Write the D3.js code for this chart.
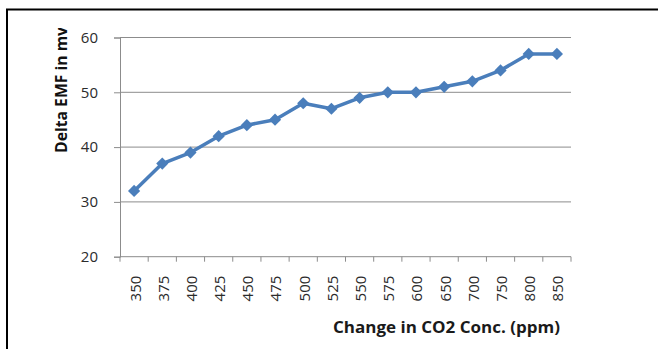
<!DOCTYPE html>
<html>
<head>
<meta charset="utf-8">
<script src="https://cdn.jsdelivr.net/npm/d3@7"></script>
<style>
  html, body { margin: 0; padding: 0; background: #fff; }
  svg { display: block; }
</style>
</head>
<body>
<svg id="chart" width="658" height="349"></svg>
<script>
// CO2 concentration steps (ppm) and measured EMF change (mV)
const categories = ["350","375","400","425","450","475","500","525","550","575","600","650","700","750","800","850"];
const deltaEmf = [32, 37, 39, 42, 44, 45, 48, 47, 49, 50, 50, 51, 52, 54, 57, 57];
const yTicks = [20, 30, 40, 50, 60];

const svg = d3.select("#chart");
const plot = { left: 120, right: 571, top: 37.5, bottom: 256.7 };
const font = "'Open Sans', 'Noto Sans', sans-serif";

// outer frame
svg.append("rect")
  .attr("x", 7).attr("y", 9.5)
  .attr("width", 700).attr("height", 400)
  .attr("fill", "none").attr("stroke", "#000").attr("stroke-width", 2);

const x = d3.scaleBand().domain(categories).range([plot.left, plot.right]).padding(0);
const y = d3.scaleLinear().domain([20, 60]).range([plot.bottom, plot.top]);

// horizontal gridlines
svg.append("g")
  .selectAll("line")
  .data(yTicks.slice(1))
  .join("line")
  .attr("x1", plot.left).attr("x2", plot.right)
  .attr("y1", d => y(d)).attr("y2", d => y(d))
  .attr("stroke", "#8c8c8c").attr("stroke-width", 1);

// y axis
const yAxis = svg.append("g")
  .attr("transform", `translate(${plot.left},0)`)
  .call(d3.axisLeft(y).tickValues(yTicks).tickSize(6).tickPadding(16));
yAxis.select(".domain").attr("stroke", "#8c8c8c");
yAxis.selectAll(".tick line").attr("stroke", "#8c8c8c");
yAxis.selectAll(".tick text")
  .attr("font-family", font).attr("font-size", 15).attr("fill", "#2b2b2b");

// x axis with ticks on category boundaries
const xAxisG = svg.append("g").attr("transform", `translate(0,${plot.bottom})`);
xAxisG.append("line")
  .attr("x1", plot.left).attr("x2", plot.right)
  .attr("y1", 0).attr("y2", 0)
  .attr("stroke", "#8c8c8c");
const boundaries = categories.map(c => x(c)).concat([x(categories[categories.length - 1]) + x.bandwidth()]);
xAxisG.selectAll("line.tk")
  .data(boundaries)
  .join("line").attr("class", "tk")
  .attr("x1", d => d).attr("x2", d => d)
  .attr("y1", 0).attr("y2", 5)
  .attr("stroke", "#8c8c8c");
xAxisG.selectAll("text")
  .data(categories)
  .join("text")
  .attr("transform", d => `translate(${x(d) + x.bandwidth() / 2 + 1},19) rotate(-90)`)
  .attr("text-anchor", "end")
  .attr("dy", "0.36em")
  .attr("font-family", font).attr("font-size", 15).attr("fill", "#2b2b2b")
  .text(d => d);

// data line and diamond markers
const cx = d => x(d) + x.bandwidth() / 2;
const line = d3.line().x((d, i) => cx(categories[i])).y(d => y(d));
svg.append("path")
  .datum(deltaEmf)
  .attr("d", line)
  .attr("fill", "none")
  .attr("stroke", "#4a7ebb").attr("stroke-width", 3.5)
  .attr("stroke-linejoin", "round");
svg.append("g")
  .selectAll("path")
  .data(deltaEmf)
  .join("path")
  .attr("d", d3.symbol().type(d3.symbolDiamond2).size(95))
  .attr("transform", (d, i) => `translate(${cx(categories[i])},${y(d)})`)
  .attr("fill", "#4a7ebb");

// axis titles
svg.append("defs").append("clipPath").attr("id", "yclip")
  .append("rect").attr("x", 0).attr("y", 28).attr("width", 120).attr("height", 300);
svg.append("g")
  .attr("clip-path", "url(#yclip)")
  .append("text")
  .attr("transform", "translate(67,153) rotate(-90)")
  .attr("text-anchor", "start")
  .attr("textLength", 126).attr("lengthAdjust", "spacingAndGlyphs")
  .attr("font-family", font).attr("font-size", 16).attr("font-weight", "bold").attr("fill", "#111")
  .text("Delta EMF in mv");
svg.append("text")
  .attr("x", 333).attr("y", 333)
  .attr("text-anchor", "start")
  .attr("textLength", 227).attr("lengthAdjust", "spacingAndGlyphs")
  .attr("font-family", font).attr("font-size", 15.5).attr("font-weight", "bold").attr("fill", "#1a1a1a")
  .text("Change in CO2 Conc. (ppm)");
</script>
</body>
</html>
